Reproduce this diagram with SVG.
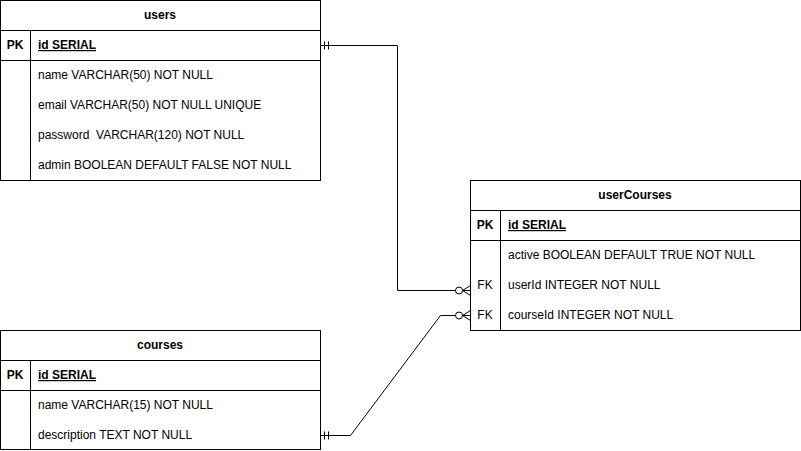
<svg xmlns="http://www.w3.org/2000/svg" width="801" height="451" viewBox="0 0 801 451">
<style>
.box{fill:#ffffff;stroke:#000000;stroke-width:1}
.ln{fill:none;stroke:#000000;stroke-width:1}
text{font-family:"Liberation Sans",Arial,sans-serif;font-size:12px;fill:#000000}
.h{font-weight:bold;text-anchor:middle}
.k{font-weight:bold;text-anchor:middle}
.fk{text-anchor:middle}
.pk{font-weight:bold;text-decoration:underline}
</style>
<defs>
<marker id="one" markerUnits="userSpaceOnUse" markerWidth="12" markerHeight="12" viewBox="0 -6 12 12" refX="0" refY="0" orient="auto" overflow="visible">
<path d="M4,-4V4M8,-4V4" fill="none" stroke="#000" stroke-width="1"/>
</marker>
<marker id="many" markerUnits="userSpaceOnUse" markerWidth="20" markerHeight="12" viewBox="-20 -6 20 12" refX="0" refY="0" orient="auto" overflow="visible">
<path d="M-8,0L0,-5M-8,0L0,5M-8,0H0" fill="none" stroke="#000" stroke-width="1"/>
<circle cx="-11.5" cy="0" r="3.5" fill="#fff" stroke="#000" stroke-width="1"/>
</marker>
</defs>
<rect width="801" height="451" fill="#ffffff"/>
<g id="connectors">
<path class="ln" d="M320.5,45.5H397.5V290.5H470.5" marker-start="url(#one)" marker-end="url(#many)"/>
<path class="ln" d="M320.5,435.5H350.5L440.5,315.5H470.5" marker-start="url(#one)" marker-end="url(#many)"/>
</g>
<g id="users">
<rect class="box" x="0.5" y="0.5" width="320" height="180"/>
<path class="ln" d="M0.5,30.5H320.5M0.5,60.5H320.5M30.5,30.5V180.5"/>
<text class="h" x="160" y="19">users</text>
<text class="k" x="15" y="49">PK</text>
<text class="pk" x="38" y="49">id SERIAL</text>
<text x="38" y="79">name VARCHAR(50) NOT NULL</text>
<text x="38" y="109">email VARCHAR(50) NOT NULL UNIQUE</text>
<text x="38" y="139" xml:space="preserve">password  VARCHAR(120) NOT NULL</text>
<text x="38" y="169">admin BOOLEAN DEFAULT FALSE NOT NULL</text>
</g>
<g id="userCourses">
<rect class="box" x="470.5" y="180.5" width="330" height="150"/>
<path class="ln" d="M470.5,210.5H800.5M470.5,240.5H800.5M500.5,210.5V330.5"/>
<text class="h" x="635" y="199">userCourses</text>
<text class="k" x="485" y="229">PK</text>
<text class="pk" x="508" y="229">id SERIAL</text>
<text x="508" y="259">active BOOLEAN DEFAULT TRUE NOT NULL</text>
<text class="fk" x="485" y="289">FK</text>
<text x="508" y="289">userId INTEGER NOT NULL</text>
<text class="fk" x="485" y="319">FK</text>
<text x="508" y="319">courseId INTEGER NOT NULL</text>
</g>
<g id="courses">
<rect class="box" x="0.5" y="330.5" width="320" height="119"/>
<path class="ln" d="M0.5,360.5H320.5M0.5,390.5H320.5M30.5,360.5V449.5"/>
<text class="h" x="160" y="349">courses</text>
<text class="k" x="15" y="379">PK</text>
<text class="pk" x="38" y="379">id SERIAL</text>
<text x="38" y="409">name VARCHAR(15) NOT NULL</text>
<text x="38" y="439">description TEXT NOT NULL</text>
</g>
</svg>
